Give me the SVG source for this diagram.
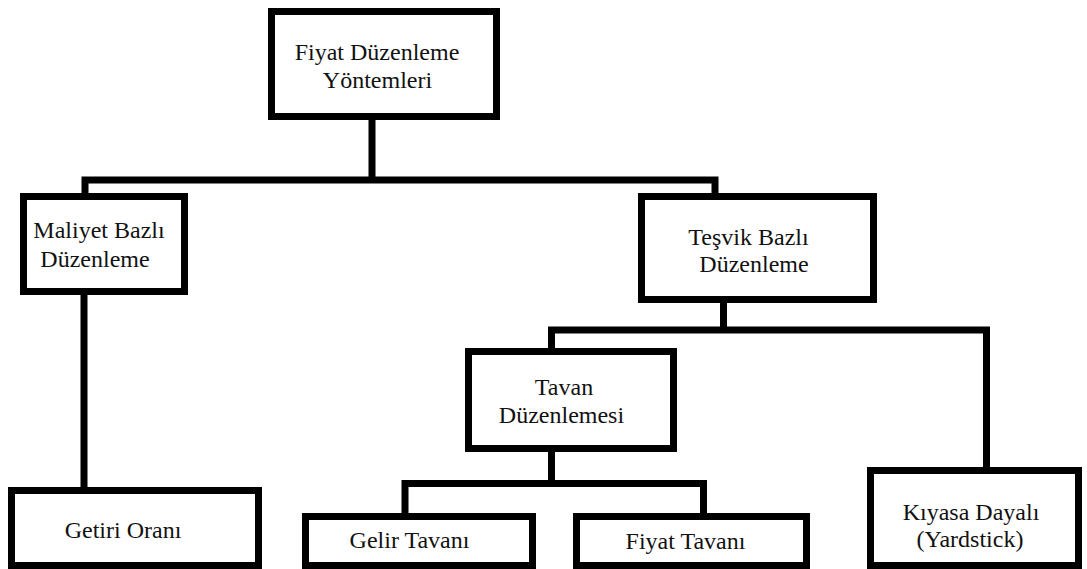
<svg xmlns="http://www.w3.org/2000/svg" width="1087" height="569" viewBox="0 0 1087 569">
  <style>
    .box { fill: #ffffff; stroke: #000000; stroke-width: 7; }
    .link { fill: none; stroke: #000000; stroke-width: 7; stroke-linejoin: miter; stroke-linecap: butt; }
    .label { font-family: "Liberation Serif", "Times New Roman", serif; font-size: 24px; fill: #111111; text-anchor: middle; }
  </style>
  <rect width="1087" height="569" fill="#ffffff"/>

  <!-- tree connectors -->
  <g id="connectors">
    <path class="link" d="M372 120 V180"/>
    <path class="link" d="M85 193 V180 H715 V193"/>
    <path class="link" d="M84 295 V487"/>
    <path class="link" d="M723.5 303 V330"/>
    <path class="link" d="M551.5 348 V330 H986.5 V467"/>
    <path class="link" d="M551.5 452 V483.5"/>
    <path class="link" d="M405 513 V483.5 H703.5 V513"/>
  </g>

  <g id="node-root">
    <rect class="box" x="271.5" y="11.5" width="225" height="105"/>
    <text class="label" x="377" y="60">Fiyat Düzenleme</text>
    <text class="label" x="377.5" y="88">Yöntemleri</text>
  </g>

  <g id="node-maliyet">
    <rect class="box" x="23.5" y="196.5" width="161" height="95"/>
    <text class="label" x="99" y="238">Maliyet Bazlı</text>
    <text class="label" x="95" y="267">Düzenleme</text>
  </g>

  <g id="node-tesvik">
    <rect class="box" x="641.5" y="196.5" width="232" height="103"/>
    <text class="label" x="748.5" y="245">Teşvik Bazlı</text>
    <text class="label" x="754" y="272">Düzenleme</text>
  </g>

  <g id="node-tavan">
    <rect class="box" x="468.5" y="351.5" width="205" height="97"/>
    <text class="label" x="564" y="395">Tavan</text>
    <text class="label" x="561.5" y="423">Düzenlemesi</text>
  </g>

  <g id="node-getiri">
    <rect class="box" x="11.5" y="490.5" width="247" height="75"/>
    <text class="label" x="123" y="538">Getiri Oranı</text>
  </g>

  <g id="node-gelir">
    <rect class="box" x="305.5" y="516.5" width="227" height="49"/>
    <text class="label" x="409.5" y="548">Gelir Tavanı</text>
  </g>

  <g id="node-fiyat">
    <rect class="box" x="576.5" y="516.5" width="230" height="49"/>
    <text class="label" x="685.5" y="549">Fiyat Tavanı</text>
  </g>

  <g id="node-kiyasa">
    <rect class="box" x="870.5" y="470.5" width="208" height="95"/>
    <text class="label" x="971" y="520">Kıyasa Dayalı</text>
    <text class="label" x="970" y="547">(Yardstick)</text>
  </g>
</svg>
